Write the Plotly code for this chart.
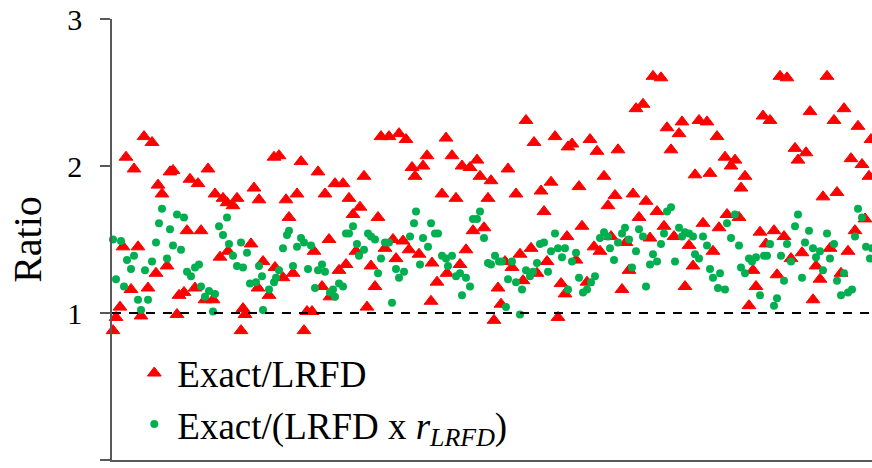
import plotly.graph_objects as go

# Position of each specimen along the (unlabelled) horizontal axis
exact_lrfd_x = [1, 4, 8, 11, 14, 19, 22, 26, 29, 32, 36, 40, 44, 46, 50, 55, 58, 61, 65, 67,
                72, 75, 78, 83, 86, 89, 93, 96, 101, 103, 108, 111, 115, 116, 121, 125, 129, 131, 133, 139,
                142, 146, 147, 151,
                157, 162, 163, 167, 171, 174, 177, 181, 185, 189, 192, 195, 200, 202, 206, 210, 213, 217, 218, 223,
                227, 231, 234, 237, 241, 244, 248, 252, 255, 259, 263, 266, 269, 273, 277, 281, 284, 287, 291, 294,
                297, 300, 303,
                307, 311, 315, 319, 320, 325, 330, 334, 335, 340, 344, 348, 350, 354, 358, 361, 365, 368, 372, 376,
                379, 382, 386, 389, 393, 396, 400, 404, 408, 411, 414, 419, 422, 425, 429, 432, 435, 439, 443, 446,
                449, 453, 455, 456,
                460, 464, 467, 470, 475, 478, 482, 485, 488, 492, 496, 499, 503, 506, 510, 514, 517, 521, 524, 527,
                531, 534, 538, 541, 545, 549, 552, 555, 559, 562, 567, 570, 573, 577, 581, 583, 587, 591, 595, 598,
                601, 605, 607,
                613, 615, 619, 623, 627, 629, 633, 637, 641, 644, 648, 651, 654, 658, 662, 665, 668, 672, 675, 679,
                683, 686, 690, 694, 698, 701, 704, 708, 711, 715, 718, 722, 725, 729, 732, 736, 739, 743, 746, 750,
                753, 757, 759]
exact_lrfd_y = [0.88, 0.97, 1.04, 1.45, 2.06, 1.16, 1.98, 1.45, 0.98, 2.20, 1.17, 2.16, 1.27, 1.87, 1.81, 1.32, 1.96, 1.97, 0.99, 1.12,
                1.14, 1.56, 1.91, 1.17, 1.88, 1.56, 1.09, 1.98, 1.09, 1.81, 1.38, 1.78, 1.75, 1.42, 1.73, 1.78, 0.88, 1.03, 0.99, 1.47,
                1.85, 1.17, 1.77, 1.35,
                1.12, 2.06, 1.31, 2.07, 1.24, 1.77, 1.65, 1.27, 1.81, 2.03, 0.88, 1.01, 1.01, 1.42, 1.96, 1.18, 1.81, 1.50, 1.11, 1.88,
                1.29, 1.88, 1.33, 1.78, 1.67, 1.42, 1.72, 1.93, 1.04, 1.32, 1.18, 1.65, 2.20, 1.44, 2.20, 1.50, 1.37, 2.22, 1.49, 2.18,
                1.43, 1.99, 1.93,
                1.40, 2.00, 2.07, 1.08, 1.34, 1.21, 1.81, 2.19, 1.27, 2.07, 1.78, 1.33, 2.00, 1.43, 1.99, 1.56, 2.04, 1.93, 1.58, 1.78,
                1.90, 0.95, 1.17, 1.06, 1.35, 1.98, 1.31, 1.81, 1.40, 1.22, 2.31, 1.44, 2.16, 1.27, 1.83, 1.69, 1.35, 1.89, 2.20, 0.97,
                1.20, 1.13, 1.52, 2.13,
                2.15, 1.36, 1.86, 1.59, 1.21, 2.18, 1.45, 2.10, 1.42, 1.93, 1.73, 1.52, 1.80, 2.11, 1.16, 1.48, 1.29, 1.81, 2.39, 1.65,
                2.42, 1.76, 1.51, 2.61, 1.69, 2.60, 1.59, 2.26, 2.11, 1.52, 2.22, 2.30, 1.18, 1.46, 1.32, 1.94, 2.31, 1.61, 2.30, 1.95,
                1.42, 2.20, 1.58,
                2.06, 1.67, 2.00, 2.04, 1.65, 1.85, 1.93, 1.05, 1.29, 1.18, 1.55, 2.34, 1.47, 2.31, 1.56, 1.26, 2.61, 1.52, 2.60, 1.37,
                2.12, 2.04, 1.41, 2.09, 2.37, 1.09, 1.32, 1.23, 1.79, 2.61, 1.44, 2.31, 1.82, 1.27, 2.39, 1.42, 2.05, 1.56, 2.27, 2.01,
                1.64, 1.93, 2.18]

exact_lrfd_r_x = [1, 4, 9, 12, 15, 19, 22, 26, 29, 33, 36, 40, 44, 47, 50, 55, 58, 61, 65, 69,
                  72, 75, 79, 83, 87, 89, 93, 97, 101, 103, 107, 111, 115, 117, 121, 125, 129, 131, 135, 138,
                  144, 147, 150, 151,
                  157, 162, 164, 167, 171, 175, 177, 181, 185, 189, 192, 196, 199, 203, 206, 210, 213, 218, 221, 223,
                  227, 231, 234, 237, 241, 245, 247, 252, 256, 259, 263, 266, 269, 273, 277, 280, 284, 287, 292, 298,
                  302, 304,
                  308, 311, 316, 319, 323, 326, 330, 334, 336, 340, 344, 348, 350, 354, 358, 361, 365, 368, 372, 376,
                  379, 383, 387, 390, 394, 396, 400, 404, 408, 410, 414, 418, 421, 425, 428, 432, 436, 439, 443, 446,
                  450, 453, 456,
                  460, 464, 467, 471, 475, 479, 483, 488, 492, 496, 498, 502, 506, 510, 513, 517, 520, 524, 527, 531,
                  534, 538, 541, 545, 549, 552, 555, 559, 563, 567, 570, 573, 577, 581, 583, 587, 591, 595, 598, 601,
                  606, 608,
                  613, 615, 619, 623, 627, 629, 633, 637, 640, 644, 648, 652, 655, 658, 662, 665, 669, 672, 675, 679,
                  683, 686, 690, 693, 697, 701, 704, 708, 711, 715, 718, 722, 725, 729, 732, 736, 740, 743, 746, 750,
                  754, 758, 760]
exact_lrfd_r_y = [1.50, 1.23, 1.49, 1.18, 1.36, 1.30, 1.39, 1.09, 1.02, 1.29, 1.09, 1.35, 1.48, 1.61, 1.71, 1.37, 1.57, 1.46, 1.67, 1.43,
                  1.65, 1.28, 1.25, 1.31, 1.33, 1.18, 1.11, 1.15, 1.01, 1.13, 1.59, 1.53, 1.65, 1.47, 1.39, 1.32, 1.48, 1.31, 1.41, 1.20,
                  1.21, 1.32, 1.25, 1.02,
                  1.16, 1.21, 1.24, 1.29, 1.44, 1.53, 1.56, 1.32, 1.45, 1.51, 1.48, 1.30, 1.46, 1.17, 1.29, 1.33, 1.28, 1.14, 1.16, 1.11,
                  1.20, 1.18, 1.54, 1.54, 1.59, 1.47, 1.39, 1.43, 1.54, 1.52, 1.50, 1.27, 1.37, 1.48, 1.48, 1.07, 1.30, 1.24, 1.28, 1.52,
                  1.61, 1.69,
                  1.33, 1.51, 1.45, 1.61, 1.54, 1.54, 1.39, 1.37, 1.32, 1.39, 1.25, 1.27, 1.12, 1.24, 1.18, 1.64, 1.64, 1.69, 1.51, 1.34,
                  1.33, 1.39, 1.35, 1.35, 1.04, 1.23, 1.35, 1.21, 0.99, 1.16, 1.29, 1.25, 1.28, 1.34, 1.47, 1.48, 1.28, 1.42, 1.54, 1.44,
                  1.38, 1.44, 1.16,
                  1.35, 1.41, 1.24, 1.14, 1.16, 1.21, 1.25, 1.51, 1.55, 1.52, 1.44, 1.36, 1.48, 1.54, 1.58, 1.50, 1.31, 1.42, 1.57, 1.52,
                  1.18, 1.33, 1.40, 1.35, 1.47, 1.54, 1.69, 1.72, 1.35, 1.58, 1.52, 1.55, 1.54, 1.52, 1.40, 1.37, 1.52, 1.46, 1.30, 1.24,
                  1.17, 1.27,
                  1.16, 1.61, 1.51, 1.67, 1.46, 1.31, 1.27, 1.37, 1.35, 1.38, 1.12, 1.39, 1.39, 1.47, 1.05, 1.10, 1.39, 1.22, 1.47, 1.35,
                  1.59, 1.67, 1.24, 1.48, 1.56, 1.44, 1.38, 1.42, 1.29, 1.54, 1.37, 1.47, 1.22, 1.12, 1.27, 1.14, 1.16, 1.52, 1.71, 1.65,
                  1.45, 1.37, 1.44]

y_ticks = [0, 1, 2, 3]
reference_ratio = 1.0
x_extent = [0, 760]

serif = "Liberation Serif, Times New Roman, serif"
axis_grey = "#595959"

fig = go.Figure()
fig.add_trace(go.Scatter(
    x=exact_lrfd_x, y=exact_lrfd_y, mode="markers", name="Exact/LRFD",
    marker=dict(symbol="triangle-up", size=12, color="#FF0000",
                line=dict(color="#FF0000", width=1)),
    cliponaxis=False,
))
fig.add_trace(go.Scatter(
    x=exact_lrfd_r_x, y=exact_lrfd_r_y, mode="markers",
    name="Exact/(LRFD x <i>r</i><sub><i>LRFD</i></sub>)",
    marker=dict(symbol="circle", size=8, color="#00B050"),
    cliponaxis=False,
))

fig.add_shape(type="line", xref="x", yref="y",
              x0=x_extent[0], x1=x_extent[1], y0=reference_ratio, y1=reference_ratio,
              line=dict(color="black", width=2, dash="9px,8px"), layer="above")

fig.update_layout(
    width=872, height=468,
    margin=dict(l=112, r=0, t=19, b=8),
    paper_bgcolor="white", plot_bgcolor="white",
    font=dict(family=serif, color="black"),
    showlegend=True,
    legend=dict(x=0.0254, y=0.2665, xanchor="left", yanchor="top",
                bgcolor="rgba(0,0,0,0)", font=dict(family=serif, size=37, color="black"),
                itemsizing="trace", itemwidth=36, tracegroupgap=0),
    xaxis=dict(range=x_extent, showline=True, linecolor=axis_grey, linewidth=1.5,
               showticklabels=False, ticks="", showgrid=False, zeroline=False),
    yaxis=dict(range=[0, 3], tickvals=y_ticks, ticks="outside", ticklen=10, tickwidth=1.5,
               tickcolor=axis_grey, showline=True, linecolor=axis_grey, linewidth=1.5,
               showgrid=False, zeroline=False, ticklabelstandoff=12,
               tickfont=dict(family=serif, size=30, color="black"),
               title=dict(text="Ratio", font=dict(family=serif, size=40, color="black"), standoff=13)),
)

fig.write_html("out.html")
